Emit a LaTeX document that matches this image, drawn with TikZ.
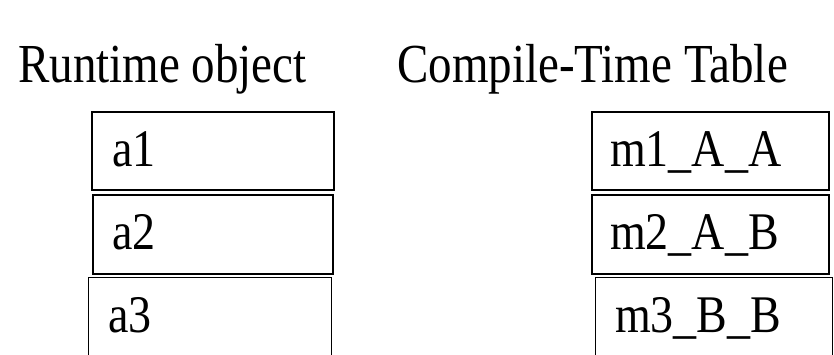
\documentclass[tikz,border=0pt]{standalone}
\usepackage{fontspec}
\setmainfont{Liberation Serif}
\usetikzlibrary{positioning}
\def\boxw{242}
\def\boxh{78}
\tikzset{
	cell/.style={draw=black,rectangle,inner sep=0pt,minimum width=\boxw pt,minimum height=\boxh pt,anchor=north west},
	celltext/.style={anchor=base west,inner sep=0pt,yscale=1.15,transform shape,font=\fontsize{46}{50}\selectfont},
	title/.style={anchor=base west,inner sep=0pt,yscale=1.17,transform shape,font=\fontsize{47}{52}\selectfont}
}

\begin{document}
\begin{tikzpicture}[x=1pt,y=1pt]

	%%% Frame
	\useasboundingbox (0,0) rectangle (834,355);

	%%% Titles
	\node[title] (runtime) at (18,272) {Runtime object};
	\node[title] (compile) at (397,272) {Compile-Time Table};

	%%% Runtime object boxes
	\node[cell,line width=2pt] (a1) at (91,244) {};
	\node[cell,line width=1.6pt,minimum width=240pt,minimum height=79pt] (a2) at (92,161) {};
	\node[cell,line width=1.1pt,minimum width=243pt,minimum height=90pt] (a3) at (88,78) {};
	\node[celltext] (a1txt) at (112,188) {a1};
	\node[celltext] (a2txt) at (112,105) {a2};
	\node[celltext] (a3txt) at (108,22) {a3};

	%%% Compile-time table boxes
	\node[cell,line width=2pt,minimum width=237pt] (m1) at (591,244) {};
	\node[cell,line width=1.6pt,minimum width=237pt,minimum height=79pt] (m2) at (591,161) {};
	\node[cell,line width=1.1pt,minimum width=237pt,minimum height=90pt] (m3) at (595,78) {};
	\node[celltext] (m1txt) at (610,188) {m1\_A\_A};
	\node[celltext] (m2txt) at (610,105) {m2\_A\_B};
	\node[celltext] (m3txt) at (615,22) {m3\_B\_B};

\end{tikzpicture}
\end{document}
